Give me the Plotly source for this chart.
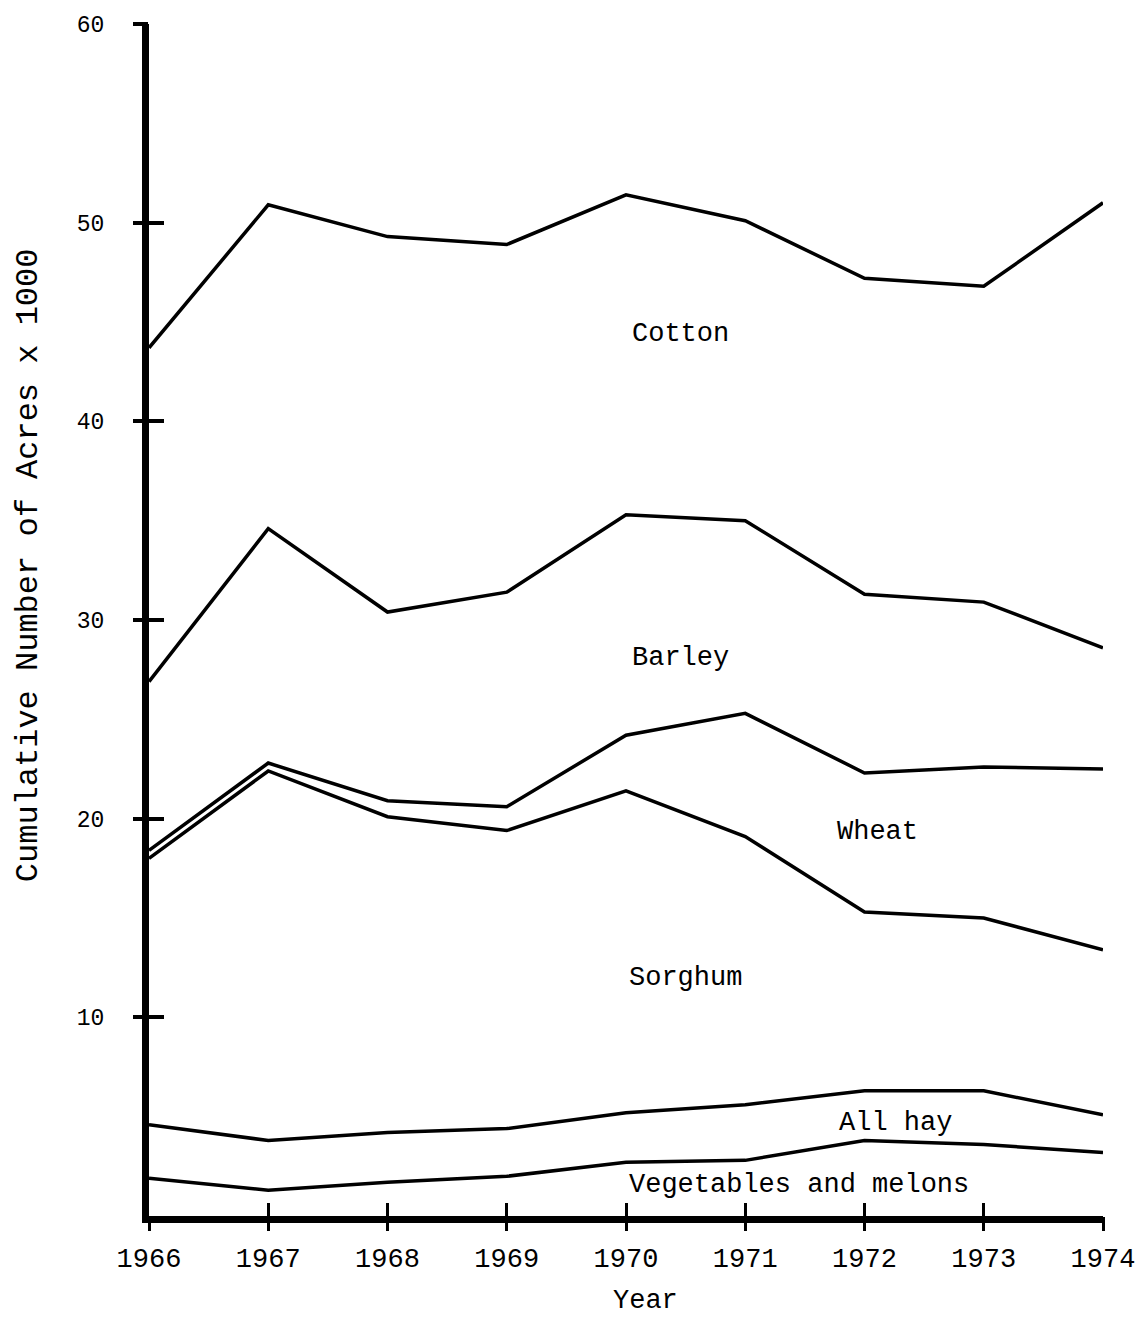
import plotly.graph_objects as go

years = [1966, 1967, 1968, 1969, 1970, 1971, 1972, 1973, 1974]
cotton = [43.7, 50.9, 49.3, 48.9, 51.4, 50.1, 47.2, 46.8, 51.0]
barley = [26.9, 34.6, 30.4, 31.4, 35.3, 35.0, 31.3, 30.9, 28.6]
wheat = [18.4, 22.8, 20.9, 20.6, 24.2, 25.3, 22.3, 22.6, 22.5]
sorghum = [18.0, 22.4, 20.1, 19.4, 21.4, 19.1, 15.3, 15.0, 13.4]
all_hay = [4.6, 3.8, 4.2, 4.4, 5.2, 5.6, 6.3, 6.3, 5.1]
vegetables = [1.9, 1.3, 1.7, 2.0, 2.7, 2.8, 3.8, 3.6, 3.2]

series = [cotton, barley, wheat, sorghum, all_hay, vegetables]

labels = ["Cotton", "Barley", "Wheat", "Sorghum", "All hay", "Vegetables and melons"]
label_x = [1970.46, 1970.46, 1972.11, 1970.5, 1972.26, 1971.45]
label_y = [44.4, 28.1, 19.35, 12.0, 4.67, 1.56]

y_ticks = [10, 20, 30, 40, 50, 60]

FONT = "Liberation Mono"

fig = go.Figure()
for s in series:
    fig.add_trace(go.Scatter(x=years, y=s, mode="lines",
                             line=dict(color="black", width=3.5),
                             showlegend=False, hoverinfo="skip"))

# invisible trace so the overlay axes (crossing tick halves) are rendered
fig.add_trace(go.Scatter(x=years, y=vegetables, mode="lines", xaxis="x2", yaxis="y2",
                         opacity=0, showlegend=False, hoverinfo="skip"))

for t, x, y in zip(labels, label_x, label_y):
    fig.add_annotation(x=x, y=y, text=t, showarrow=False,
                       font=dict(family=FONT, size=27, color="black"))

fig.add_annotation(xref="paper", yref="paper", x=(27 - 148) / 955, y=(1218 - 566) / 1194,
                   xanchor="center", yanchor="middle",
                   text="Cumulative Number of Acres x 1000", textangle=-90, showarrow=False,
                   font=dict(family=FONT, size=32, color="black"))
fig.add_annotation(xref="paper", yref="paper", x=(645 - 148) / 955, y=(1218 - 1303) / 1194,
                   xanchor="center", yanchor="middle",
                   text="Year", showarrow=False,
                   font=dict(family=FONT, size=27, color="black"))

fig.update_layout(
    width=1147, height=1317,
    margin=dict(l=141, r=52, t=16, b=109),
    paper_bgcolor="white", plot_bgcolor="white",
    xaxis=dict(range=[1966, 1974], tickvals=years, ticktext=[str(y) for y in years],
               showgrid=False, zeroline=False, showline=True, linewidth=7, linecolor="black",
               ticks="inside", ticklen=13, tickwidth=3, tickcolor="black", automargin=False,
               tickfont=dict(family=FONT, size=27, color="black"), ticklabelstandoff=12),
    xaxis2=dict(range=[1966, 1974], overlaying="x", anchor="y", side="bottom",
                tickvals=years, showticklabels=False, showgrid=False, zeroline=False,
                showline=False, ticks="outside", ticklen=14, tickwidth=3, tickcolor="black",
                automargin=False),
    yaxis=dict(range=[0, 60], tickvals=y_ticks, showgrid=False, zeroline=False,
               showline=True, linewidth=7, linecolor="black", automargin=False,
               ticks="inside", ticklen=15, tickwidth=4, tickcolor="black",
               tickfont=dict(family=FONT, size=23, color="black"), ticklabelstandoff=33),
    yaxis2=dict(range=[0, 60], overlaying="y", anchor="x", side="left",
                tickvals=y_ticks, showticklabels=False, showgrid=False, zeroline=False,
                showline=False, ticks="outside", ticklen=15, tickwidth=4, tickcolor="black",
                automargin=False),
)

fig.write_html("out.html")
